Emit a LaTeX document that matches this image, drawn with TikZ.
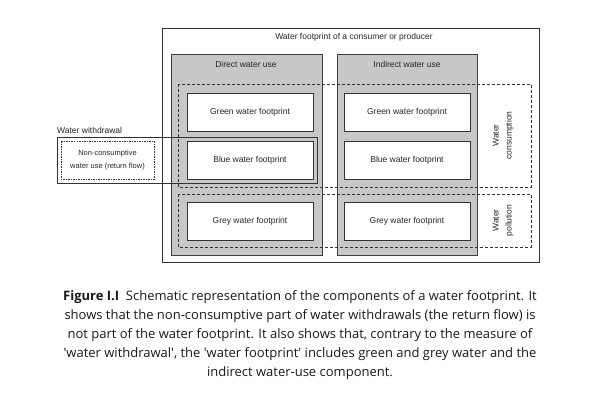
\documentclass[tikz,border=0pt]{standalone}
\usepackage{fontspec}
\setmainfont{Open Sans}
\newfontfamily\diagfont{Liberation Sans}

\begin{document}
\begin{tikzpicture}[x=1pt,y=-1pt,
		txt/.style={font=\diagfont\fontsize{8.5}{13}\selectfont,text=black!85,align=center,inner sep=0pt},
		fpbox/.style={txt,draw=black!80,line width=1pt,fill=white,minimum width=126pt,minimum height=38pt},
		usebox/.style={draw=black!75,line width=0.8pt,fill=black!22},
		dashbox/.style={draw=black!80,line width=0.8pt,dash pattern=on 3pt off 2pt}]
				\useasboundingbox (0,0) rectangle (600,400);
				\draw[black!80,line width=0.7pt] (162,28) rectangle (539,262);
				\node[txt] (title) at (354,37) {Water footprint of a consumer or producer};
				\draw[usebox] (171,54) rectangle (322,255);
				\draw[usebox] (337,54) rectangle (477,255);
				\node[txt] (direct) at (246,64) {Direct water use};
				\node[txt] (indirect) at (407,64) {Indirect water use};
				\draw[dashbox] (178,84) rectangle (531,187);
				\draw[dashbox] (178,194) rectangle (531,247);
				\node[fpbox] (green1) at (250,112) {Green water footprint};
				\node[fpbox] (blue1) at (250,160) {Blue water footprint};
				\node[fpbox] (grey1) at (250,221.5) {Grey water footprint};
				\node[fpbox] (green2) at (407,112) {Green water footprint};
				\node[fpbox] (blue2) at (407,160) {Blue water footprint};
				\node[fpbox] (grey2) at (407,221.5) {Grey water footprint};
				\node[txt,rotate=90] (consumption) at (503,135.5) {Water\\consumption};
				\node[txt,rotate=90] (pollution) at (503,220.5) {Water\\pollution};
				\draw[black!80,line width=0.7pt] (57,137) rectangle (317,183);
				\node[txt,anchor=south west] (withdrawal) at (57,134) {Water withdrawal};
				\draw[black!80,line width=0.6pt,dash pattern=on 1.5pt off 1pt] (61,141) rectangle (154,179);
				\node[txt,font=\diagfont\fontsize{7.5}{13}\selectfont] (returnflow) at (107.5,160) {Non-consumptive\\water use (return flow)};
				\node[align=center,font=\fontsize{13}{19}\selectfont,text=black!90] (caption) at (300,335)
					{\textbf{Figure I.I}\ \ Schematic representation of the components of a water footprint. It\\
					shows that the non-consumptive part of water withdrawals (the return flow) is\\
					not part of the water footprint. It also shows that, contrary to the measure of\\
					\textquotesingle water withdrawal\textquotesingle, the \textquotesingle water footprint\textquotesingle\ includes green and grey water and the\\
					indirect water-use component.};
			\end{tikzpicture}
\end{document}
